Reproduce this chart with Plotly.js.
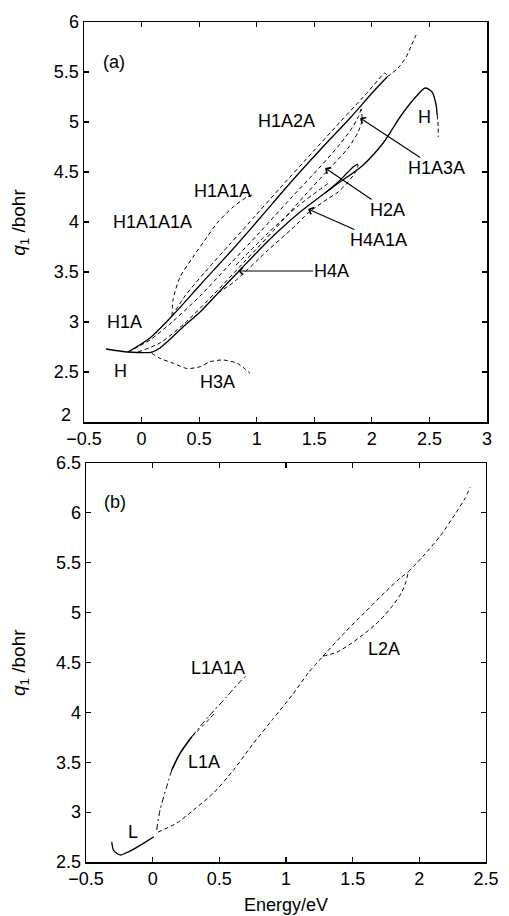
<!DOCTYPE html>
<html><head><meta charset="utf-8">
<script src="https://cdn.plot.ly/plotly-3.0.1.min.js"></script>
<style>html,body{margin:0;padding:0;background:#fff}#chart{width:509px;height:916px}</style>
</head><body><div id="chart"></div>
<script>
// ---------- panel (a): energy (eV) vs q1 (bohr) ----------
const hE   = [-0.309,-0.118,0.091,0.160,0.221,0.360,0.508,0.664,0.838,1.116,1.377,1.663,1.915,2.098,2.245,2.358,2.463,2.523,2.558,2.567];
const hQ   = [2.73,2.70,2.70,2.74,2.80,2.95,3.10,3.29,3.50,3.83,4.10,4.35,4.56,4.79,5.05,5.22,5.34,5.30,5.17,5.07];
const hTailE = [2.567,2.576,2.576];
const hTailQ = [5.07,4.96,4.85];
const h1aE = [-0.118,0.073,0.265,0.508,0.786,1.029,1.290,1.550,1.811,2.002,2.132];
const h1aQ = [2.70,2.84,3.06,3.37,3.72,4.04,4.39,4.72,5.04,5.29,5.45];
const h1aExtE = [2.132,2.228,2.298,2.341,2.384];
const h1aExtQ = [5.45,5.54,5.65,5.76,5.87];
const h1a2aE = [0.265,0.377,0.551,0.768,0.986,1.203,1.463,1.724,1.941,2.054,2.090,2.110,2.130,2.135];
const h1a2aQ = [3.06,3.26,3.50,3.78,4.06,4.34,4.67,5.00,5.27,5.42,5.47,5.49,5.47,5.45];
const h1a1a1aE = [0.265,0.273,0.334,0.447,0.569,0.656,0.795,0.916,0.986];
const h1a1a1aQ = [3.06,3.22,3.45,3.65,3.85,3.99,4.15,4.25,4.28];
const h1a3aUpE = [-0.118,0.073,0.265,0.508,0.768,1.029,1.290,1.550,1.724,1.828,1.881,1.907];
const h1a3aUpQ = [2.70,2.82,3.00,3.26,3.58,3.90,4.23,4.55,4.78,4.94,5.05,5.13];
const h1a3aLoE = [-0.031,0.160,0.377,0.638,0.899,1.159,1.420,1.637,1.794,1.881,1.915,1.907];
const h1a3aLoQ = [2.70,2.79,2.99,3.29,3.61,3.93,4.27,4.54,4.74,4.90,5.02,5.13];
const h4aE = [0.664,0.812,1.090,1.333,1.446,1.576,1.707,1.794,1.863,1.881];
const h4aQ = [3.29,3.41,3.71,3.96,4.09,4.20,4.30,4.40,4.51,4.57];
const h2aE = [1.594,1.698,1.785,1.837,1.881];
const h2aQ = [4.29,4.39,4.49,4.55,4.58];
const h4a1aE = [0.821,1.099,1.359,1.637];
const h4a1aQ = [3.57,3.89,4.16,4.40];
const h3aE = [0.088,0.160,0.276,0.395,0.508,0.595,0.708,0.830,0.942];
const h3aQ = [2.687,2.637,2.587,2.535,2.553,2.603,2.620,2.587,2.487];

// ---------- panel (b) ----------
const lE = [-0.307,-0.295,-0.270,-0.240,-0.207,-0.145,-0.070,0.010];
const lQ = [2.703,2.620,2.587,2.570,2.587,2.627,2.687,2.753];
const lMainE = [0.040,0.180,0.305,0.455,0.605,0.750,0.900,1.050,1.170,1.278];
const lMainQ = [2.800,2.890,3.020,3.190,3.420,3.680,3.930,4.180,4.400,4.564];
const l2aUpE = [1.278,1.443,1.593,1.743,1.856,1.916];
const l2aUpQ = [4.564,4.804,5.005,5.205,5.346,5.406];
const l2aLoE = [1.278,1.383,1.481,1.593,1.706,1.803,1.866,1.900,1.916];
const l2aLoQ = [4.564,4.604,4.684,4.794,4.925,5.075,5.200,5.310,5.406];
const lEndE = [1.916,2.028,2.156,2.268,2.343,2.381];
const lEndQ = [5.406,5.566,5.767,5.987,6.147,6.257];
const l1aDdE = [0.030,0.055,0.105,0.143];
const l1aDdQ = [2.821,3.021,3.255,3.422];
const l1aSolE = [0.143,0.205,0.293];
const l1aSolQ = [3.422,3.589,3.756];
const l1aEndE = [0.293,0.380,0.468];
const l1aEndQ = [3.756,3.870,3.996];
const l1a1aE = [0.293,0.350,0.418,0.555,0.655,0.706];
const l1a1aQ = [3.756,3.850,3.956,4.156,4.307,4.374];

const xTicksA = [-0.5,0,0.5,1,1.5,2,2.5,3];
const yTicksA = [2,2.5,3,3.5,4,4.5,5,5.5,6];
const xTicksB = [-0.5,0,0.5,1,1.5,2,2.5];
const yTicksB = [2.5,3,3.5,4,4.5,5,5.5,6,6.5];

const labelsA = [
  {t:'(a)', e:-0.239, q:5.60},
  {t:'H1A2A', e:1.255, q:5.01},
  {t:'H1A1A', e:0.699, q:4.31},
  {t:'H1A1A1A', e:0.099, q:4.00},
  {t:'H1A', e:-0.144, q:3.00},
  {t:'H', e:-0.187, q:2.51},
  {t:'H3A', e:0.656, q:2.40},
  {t:'H', e:2.454, q:5.05}
];
// labels with arrows: label at (e,q), arrow tip at (tipE,tipQ)
const arrowLabelsA = [
  {t:'H1A3A', e:2.558, q:4.54, tipE:1.898, tipQ:5.04},
  {t:'H2A',   e:2.132, q:4.12, tipE:1.594, tipQ:4.54},
  {t:'H4A1A', e:2.054, q:3.82, tipE:1.446, tipQ:4.13},
  {t:'H4A',   e:1.646, q:3.51, tipE:0.838, tipQ:3.51}
];
const labelsB = [
  {t:'(b)', e:-0.282, q:6.107},
  {t:'L1A1A', e:0.490, q:4.444},
  {t:'L1A', e:0.385, q:3.502},
  {t:'L', e:-0.147, q:2.80},
  {t:'L2A', e:1.736, q:4.634}
];

const SOLID='solid', DASH='4px,3px', DDOT='6px,3px,2px,3px';
function tr(x,y,dash,ax,w){
  return {x:x,y:y,xaxis:ax==='b'?'x2':'x',yaxis:ax==='b'?'y2':'y',mode:'lines',
    line:{color:'#000',width:w||(dash===SOLID?1.3:1),dash:dash,shape:'spline',smoothing:0.7},
    hoverinfo:'skip',showlegend:false};
}
const data = [
  tr(hE,hQ,SOLID,'a'), tr(hTailE,hTailQ,DASH,'a'),
  tr(h1aE,h1aQ,SOLID,'a'), tr(h1aExtE,h1aExtQ,DASH,'a'),
  tr(h1a2aE,h1a2aQ,DASH,'a'), tr(h1a1a1aE,h1a1a1aQ,DASH,'a'),
  tr(h1a3aUpE,h1a3aUpQ,DASH,'a'), tr(h1a3aLoE,h1a3aLoQ,DASH,'a'),
  tr(h4aE,h4aQ,DASH,'a'), tr(h2aE,h2aQ,SOLID,'a'), tr(h4a1aE,h4a1aQ,DASH,'a'),
  tr(h3aE,h3aQ,DASH,'a'),
  tr(lE,lQ,SOLID,'b'), tr(lMainE,lMainQ,DASH,'b'),
  tr(l2aUpE,l2aUpQ,DASH,'b'), tr(l2aLoE,l2aLoQ,DASH,'b'), tr(lEndE,lEndQ,DASH,'b'),
  tr(l1aDdE,l1aDdQ,DDOT,'b'), tr(l1aSolE,l1aSolQ,SOLID,'b',1.6),
  tr(l1aEndE,l1aEndQ,DASH,'b'), tr(l1a1aE,l1a1aQ,DDOT,'b')
];

const FONT = '"Liberation Sans", Arial, Helvetica, sans-serif';
const ann = [];
labelsA.forEach(l=>ann.push({xref:'x',yref:'y',x:l.e,y:l.q,text:l.t,showarrow:false,font:{size:18,color:'#000',family:FONT}}));
arrowLabelsA.forEach(a=>ann.push({xref:'x',yref:'y',axref:'x',ayref:'y',x:a.tipE,y:a.tipQ,ax:a.e,ay:a.q,text:a.t,showarrow:true,arrowhead:4,arrowsize:1.3,arrowwidth:1.1,arrowcolor:'#000',standoff:0,startstandoff:0,borderpad:0,font:{size:18,color:'#000',family:FONT}}));
labelsB.forEach(l=>ann.push({xref:'x2',yref:'y2',x:l.e,y:l.q,text:l.t,showarrow:false,font:{size:18,color:'#000',family:FONT}}));
// lowest y tick label of panel (a), lifted clear of the x tick labels as in the original
ann.push({xref:'paper',yref:'y',x:-0.027,y:yTicksA[0],yshift:7,xanchor:'right',yanchor:'middle',text:String(yTicksA[0]),showarrow:false,font:{size:18,color:'#000',family:FONT}});
ann.push({xref:'paper',yref:'paper',x:-0.159,y:0.762,xanchor:'center',yanchor:'middle',text:'<i>q</i><sub>1</sub> /bohr',textangle:-90,showarrow:false,font:{size:19,color:'#000',family:FONT}});
ann.push({xref:'paper',yref:'paper',x:-0.159,y:0.238,xanchor:'center',yanchor:'middle',text:'<i>q</i><sub>1</sub> /bohr',textangle:-90,showarrow:false,font:{size:19,color:'#000',family:FONT}});
ann.push({xref:'paper',yref:'paper',x:0.501,y:-0.051,xanchor:'center',yanchor:'middle',text:'Energy/eV',showarrow:false,font:{size:18,color:'#000',family:FONT}});

function axis(range,ticks,domain,anchor,skipFirst){
  return {range:range,tickvals:ticks,ticktext:ticks.map((v,i)=>(skipFirst&&i===0)?'':String(v).replace('-','\u2212')),domain:domain,anchor:anchor,
    showgrid:false,zeroline:false,showline:true,linecolor:'#000',linewidth:1.5,mirror:'ticks',
    ticks:'inside',ticklen:5,tickwidth:1.2,tickcolor:'#000',
    tickfont:{size:18,color:'#000',family:FONT},fixedrange:true};
}
const layout = {
  width:509,height:916,margin:{l:84,r:22,t:22,b:54},paper_bgcolor:'#fff',plot_bgcolor:'#fff',
  showlegend:false,font:{family:FONT,color:'#000'},
  xaxis:axis([-0.5,3],xTicksA,[0,1],'y'),
  yaxis:axis([2,6],yTicksA,[0.5238,1],'x',true),
  xaxis2:axis([-0.5,2.5],xTicksB,[0.005,0.9975],'y2'),
  yaxis2:axis([2.5,6.5],yTicksB,[0,0.475],'x2'),
  annotations:ann
};
Plotly.newPlot('chart',data,layout,{staticPlot:true,displayModeBar:false});
</script></body></html>
